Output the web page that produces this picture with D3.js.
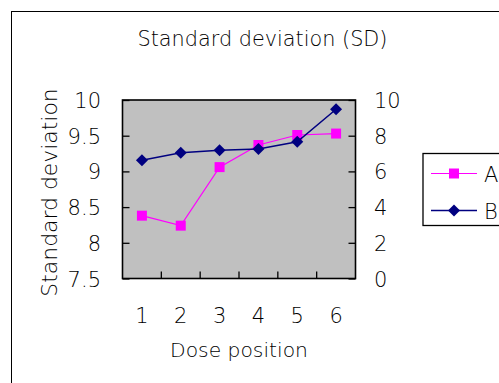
<!DOCTYPE html>
<html>
<head>
<meta charset="utf-8">
<script src="https://cdn.jsdelivr.net/npm/d3@7"></script>
<style>
  html, body { margin: 0; padding: 0; background: #fff; }
  svg { display: block; }
  text { font-family: "DejaVu Sans", "Noto Sans CJK JP", sans-serif; font-weight: 200; fill: #000; }
</style>
</head>
<body>
<svg id="chart" width="499" height="383"></svg>
<script>
// Dose positions along the x axis
const categories = ["1", "2", "3", "4", "5", "6"];
// Series A: plotted against the left (primary) axis
const seriesA = [8.38, 8.24, 9.06, 9.37, 9.51, 9.53];
// Series B: plotted against the right (secondary) axis
const seriesB = [6.63, 7.04, 7.19, 7.25, 7.66, 9.48];
const leftTicks = [7.5, 8, 8.5, 9, 9.5, 10];
const rightTicks = [0, 2, 4, 6, 8, 10];
const seriesNames = ["A", "B"];

const svg = d3.select("#chart");

// outer chart frame
svg.append("rect")
  .attr("x", 11.5).attr("y", 11.5)
  .attr("width", 520).attr("height", 400)
  .attr("fill", "#fff").attr("stroke", "#000").attr("stroke-width", 1);

const plot = { left: 122.5, right: 355.5, top: 100, bottom: 278.5 };

const x = d3.scaleBand().domain(categories).range([plot.left, plot.right]);
const yL = d3.scaleLinear().domain([7.5, 10]).range([plot.bottom, plot.top]);
const yR = d3.scaleLinear().domain([0, 10]).range([plot.bottom, plot.top]);

// plot area
svg.append("rect")
  .attr("x", plot.left).attr("y", plot.top)
  .attr("width", plot.right - plot.left).attr("height", plot.bottom - plot.top)
  .attr("fill", "#c0c0c0");

// title
svg.append("text")
  .attr("x", 262.5).attr("y", 46)
  .attr("text-anchor", "middle")
  .attr("font-size", 20.8)
  .text("Standard deviation (SD)");

// left axis (ticks pointing inward)
const leftAxis = svg.append("g")
  .attr("transform", `translate(${plot.left},0)`)
  .call(d3.axisRight(yL).tickValues(leftTicks).tickSize(7).tickFormat(() => ""));
leftAxis.select(".domain").remove();
leftAxis.selectAll("line").attr("stroke", "#000").attr("stroke-width", 1.3);
svg.append("g").selectAll("text").data(leftTicks).join("text")
  .attr("x", 101).attr("y", d => yL(d) + 8)
  .attr("text-anchor", "end")
  .attr("font-size", 21)
  .text(d => d3.format("")(d));

// right axis (ticks pointing inward)
const rightAxis = svg.append("g")
  .attr("transform", `translate(${plot.right},0)`)
  .call(d3.axisLeft(yR).tickValues(rightTicks).tickSize(7).tickFormat(() => ""));
rightAxis.select(".domain").remove();
rightAxis.selectAll("line").attr("stroke", "#000").attr("stroke-width", 1.3);
svg.append("g").selectAll("text").data(rightTicks).join("text")
  .attr("x", 374).attr("y", d => yR(d) + 8)
  .attr("text-anchor", "start")
  .attr("font-size", 21)
  .text(d => d);

// bottom axis: tick marks at category boundaries, inward
const boundaries = categories.slice(1).map(c => x(c));
svg.append("g").selectAll("line").data(boundaries).join("line")
  .attr("x1", d => d).attr("x2", d => d)
  .attr("y1", plot.bottom).attr("y2", plot.bottom - 7)
  .attr("stroke", "#000").attr("stroke-width", 1.3);
svg.append("g").selectAll("text").data(categories).join("text")
  .attr("x", d => x(d) + x.bandwidth() / 2)
  .attr("y", 323)
  .attr("text-anchor", "middle")
  .attr("font-size", 21)
  .text(d => d);

// plot area border
svg.append("rect")
  .attr("x", plot.left).attr("y", plot.top)
  .attr("width", plot.right - plot.left).attr("height", plot.bottom - plot.top)
  .attr("fill", "none").attr("stroke", "#000").attr("stroke-width", 1.6);

// axis titles
svg.append("text")
  .attr("transform", "translate(57,192.5) rotate(-90)")
  .attr("text-anchor", "middle")
  .attr("font-size", 21.9)
  .text("Standard deviation");
svg.append("text")
  .attr("x", 239).attr("y", 356.5)
  .attr("text-anchor", "middle")
  .attr("font-size", 20.3)
  .text("Dose position");

const cx = d => x(d) + x.bandwidth() / 2;
const colorA = "#ff00ff", colorB = "#000080";

// series A line + square markers
svg.append("path")
  .datum(seriesA)
  .attr("fill", "none").attr("stroke", colorA).attr("stroke-width", 1.2)
  .attr("d", d3.line().x((d, i) => cx(categories[i])).y(d => yL(d)));
const sq = d3.symbol().type(d3.symbolSquare).size(100);
svg.append("g").selectAll("path").data(seriesA).join("path")
  .attr("transform", (d, i) => `translate(${cx(categories[i])},${yL(d)})`)
  .attr("d", sq)
  .attr("fill", colorA);

// series B line + diamond markers
svg.append("path")
  .datum(seriesB)
  .attr("fill", "none").attr("stroke", colorB).attr("stroke-width", 1.5)
  .attr("d", d3.line().x((d, i) => cx(categories[i])).y(d => yR(d)));
const diamond = "M0,-6L6,0L0,6L-6,0Z";
svg.append("g").selectAll("path").data(seriesB).join("path")
  .attr("transform", (d, i) => `translate(${cx(categories[i])},${yR(d)})`)
  .attr("d", diamond)
  .attr("fill", colorB);

// legend
const lg = svg.append("g");
lg.append("rect")
  .attr("x", 423).attr("y", 153.5)
  .attr("width", 100).attr("height", 72)
  .attr("fill", "#fff").attr("stroke", "#000").attr("stroke-width", 1.3);
const legendRows = [
  { name: seriesNames[0], color: colorA, y: 173.5, marker: sq, w: 1.2 },
  { name: seriesNames[1], color: colorB, y: 210.5, marker: diamond, w: 1.5 }
];
legendRows.forEach(r => {
  lg.append("line")
    .attr("x1", 431).attr("x2", 477).attr("y1", r.y).attr("y2", r.y)
    .attr("stroke", r.color).attr("stroke-width", r.w);
  lg.append("path")
    .attr("transform", `translate(454,${r.y})`)
    .attr("d", r.marker)
    .attr("fill", r.color);
  lg.append("text")
    .attr("x", 484).attr("y", r.y + 8.5)
    .attr("font-size", 21)
    .text(r.name);
});
</script>
</body>
</html>
